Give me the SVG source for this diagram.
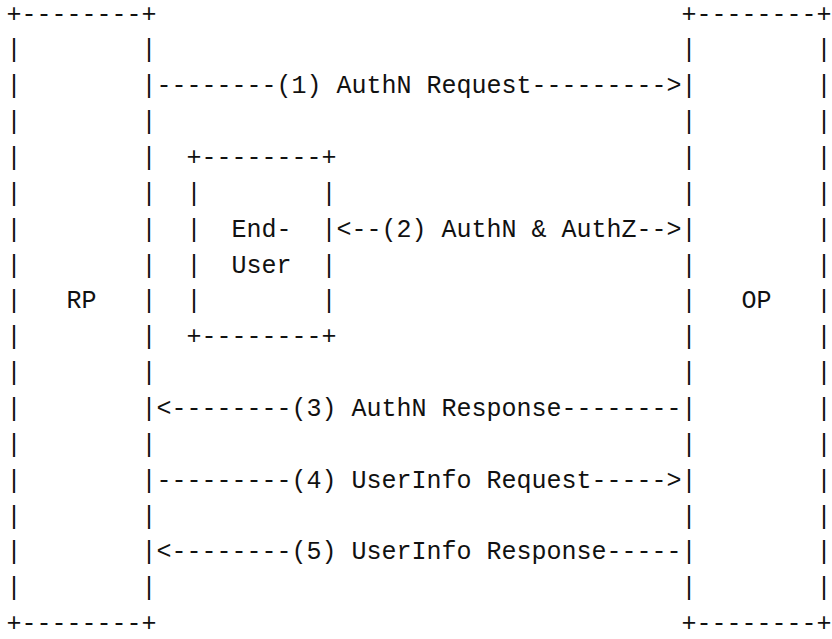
<svg xmlns="http://www.w3.org/2000/svg" width="832" height="639" viewBox="0 0 832 639">
<style>
text{font-family:"Liberation Mono","DejaVu Sans Mono",monospace;font-size:25px;fill:#111;white-space:pre}
</style>
<rect width="832" height="639" fill="#fff"/>
<g id="node-rp">
<text xml:space="preserve"><tspan x="6.5" y="21.5">+--------+</tspan><tspan x="6.5" y="57.36">|        |</tspan><tspan x="6.5" y="93.22">|        |</tspan><tspan x="6.5" y="129.08">|        |</tspan><tspan x="6.5" y="164.94">|        |</tspan><tspan x="6.5" y="200.8">|        |</tspan><tspan x="6.5" y="236.66">|        |</tspan><tspan x="6.5" y="272.52">|        |</tspan><tspan x="6.5" y="308.38">|   RP   |</tspan><tspan x="6.5" y="344.24">|        |</tspan><tspan x="6.5" y="380.1">|        |</tspan><tspan x="6.5" y="415.96">|        |</tspan><tspan x="6.5" y="451.82">|        |</tspan><tspan x="6.5" y="487.68">|        |</tspan><tspan x="6.5" y="523.54">|        |</tspan><tspan x="6.5" y="559.4">|        |</tspan><tspan x="6.5" y="595.26">|        |</tspan><tspan x="6.5" y="631.12">+--------+</tspan></text>
</g>
<g id="node-op">
<text xml:space="preserve"><tspan x="681.5" y="21.5">+--------+</tspan><tspan x="681.5" y="57.36">|        |</tspan><tspan x="681.5" y="93.22">|        |</tspan><tspan x="681.5" y="129.08">|        |</tspan><tspan x="681.5" y="164.94">|        |</tspan><tspan x="681.5" y="200.8">|        |</tspan><tspan x="681.5" y="236.66">|        |</tspan><tspan x="681.5" y="272.52">|        |</tspan><tspan x="681.5" y="308.38">|   OP   |</tspan><tspan x="681.5" y="344.24">|        |</tspan><tspan x="681.5" y="380.1">|        |</tspan><tspan x="681.5" y="415.96">|        |</tspan><tspan x="681.5" y="451.82">|        |</tspan><tspan x="681.5" y="487.68">|        |</tspan><tspan x="681.5" y="523.54">|        |</tspan><tspan x="681.5" y="559.4">|        |</tspan><tspan x="681.5" y="595.26">|        |</tspan><tspan x="681.5" y="631.12">+--------+</tspan></text>
</g>
<g id="node-end-user">
<text xml:space="preserve"><tspan x="186.5" y="164.94">+--------+</tspan><tspan x="186.5" y="200.8">|        |</tspan><tspan x="186.5" y="236.66">|  End-  |</tspan><tspan x="186.5" y="272.52">|  User  |</tspan><tspan x="186.5" y="308.38">|        |</tspan><tspan x="186.5" y="344.24">+--------+</tspan></text>
</g>
<g id="connectors">
<text id="c1" xml:space="preserve" x="156.5" y="93.22">--------(1) AuthN Request---------&gt;</text>
<text id="c2" xml:space="preserve" x="336.5" y="236.66">&lt;--(2) AuthN &amp; AuthZ--&gt;</text>
<text id="c3" xml:space="preserve" x="156.5" y="415.96">&lt;--------(3) AuthN Response--------</text>
<text id="c4" xml:space="preserve" x="156.5" y="487.68">---------(4) UserInfo Request-----&gt;</text>
<text id="c5" xml:space="preserve" x="156.5" y="559.4">&lt;--------(5) UserInfo Response-----</text>
</g>
</svg>
